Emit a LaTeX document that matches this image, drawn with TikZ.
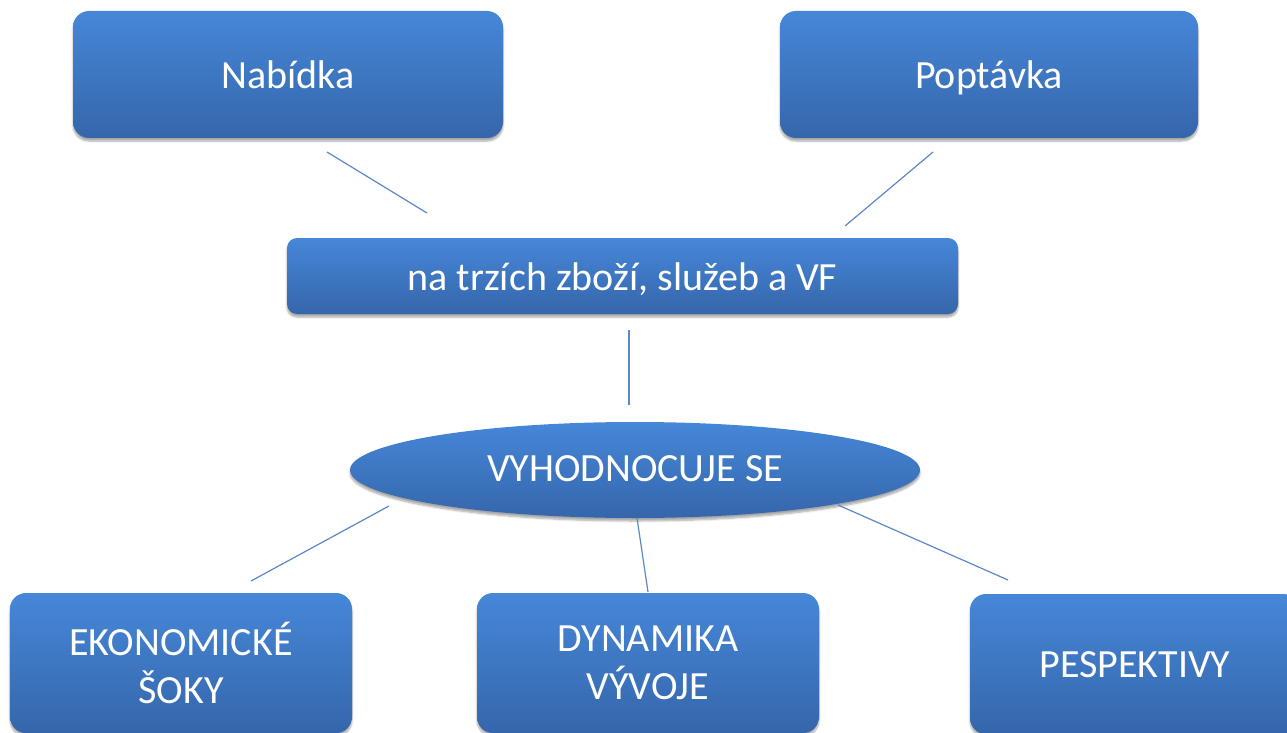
\documentclass[tikz,border=0pt]{standalone}
\usepackage{fontspec}
\setmainfont{Carlito}
\usetikzlibrary{shapes.geometric,shadows.blur}
\definecolor{btop}{HTML}{4687D8}
\definecolor{bbot}{HTML}{3566AB}
\definecolor{lnc}{HTML}{5B88C6}
\tikzset{
  box/.style={rectangle, rounded corners=16pt, top color=btop, bottom color=bbot, draw=none,
    text=white, font=\fontsize{40}{48}\selectfont, align=center,
    blur shadow={shadow blur steps=6, shadow xshift=0pt, shadow yshift=-3pt, shadow opacity=35}},
  oneline/.style={text height=30pt, text depth=1pt},
  oval/.style={ellipse, top color=btop, bottom color=bbot, draw=none, inner sep=0pt,
    text=white, font=\fontsize{40}{48}\selectfont, text height=23pt, text depth=1pt,
    blur shadow={shadow blur steps=6, shadow xshift=0pt, shadow yshift=-3pt, shadow opacity=35}},
  link/.style={draw=lnc, line width=1.2pt}
}
\begin{document}
\begin{tikzpicture}[x=1pt,y=-1pt]
\useasboundingbox (0,0) rectangle (1287,733);
\clip (0,0) rectangle (1287,733);
\node[box, oneline, minimum width=430pt, minimum height=127pt] (nab) at (288,74.5) {Nabídka};
\node[box, oneline, minimum width=418pt, minimum height=127pt] (pop) at (989,74.5) {Poptávka};
\node[box, oneline, minimum width=671pt, minimum height=76pt, rounded corners=10pt] (trh) at (622.5,276) {na trzích zboží, služeb a VF};
\node[oval, minimum width=570pt, minimum height=96pt] (vyh) at (635,470) {VYHODNOCUJE SE};
\node[box, minimum width=342pt, minimum height=140pt] (eko) at (181,663) {EKONOMICKÉ\\ŠOKY};
\node[box, minimum width=342pt, minimum height=140pt] (dyn) at (648,663) {DYNAMIKA\\VÝVOJE};
\node[box, text height=27pt, text depth=1pt, minimum width=330pt, minimum height=140pt] (pes) at (1135,664) {PESPEKTIVY};
\coordinate (a1) at (327,152); \coordinate (a2) at (427,213);
\coordinate (b1) at (933,152); \coordinate (b2) at (845,226);
\coordinate (c1) at (629,330); \coordinate (c2) at (629,405);
\coordinate (d1) at (389,506); \coordinate (d2) at (251,581);
\coordinate (e1) at (637,518); \coordinate (e2) at (648,592);
\coordinate (f1) at (838,505); \coordinate (f2) at (1008,580);
\draw[link] (a1) -- (a2);
\draw[link] (b1) -- (b2);
\draw[link] (c1) -- (c2);
\draw[link] (d1) -- (d2);
\draw[link] (e1) -- (e2);
\draw[link] (f1) -- (f2);
\end{tikzpicture}
\end{document}
